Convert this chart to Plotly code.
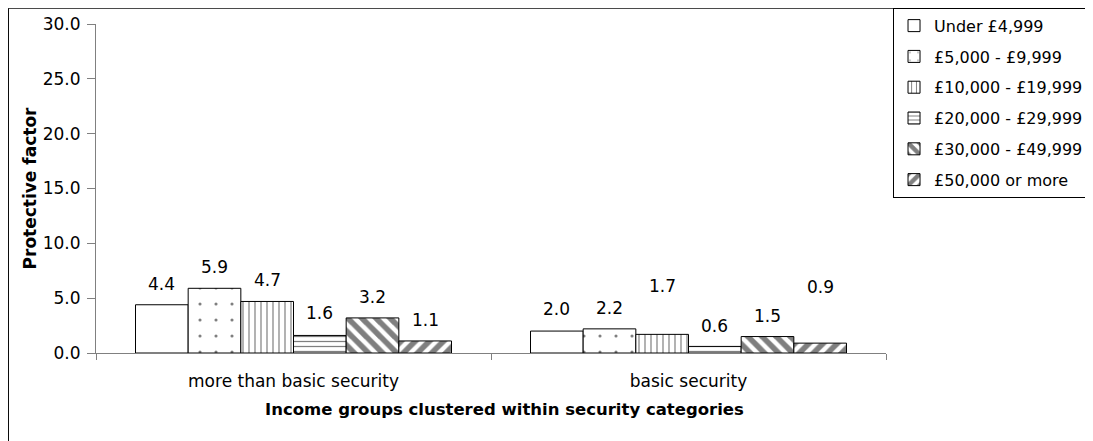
import plotly.graph_objects as go

categories = ["more than basic security", "basic security"]
series_names = ["Under £4,999", "£5,000 - £9,999", "£10,000 - £19,999",
                "£20,000 - £29,999", "£30,000 - £49,999", "£50,000 or more"]
# values[series][category]
values = [
    [4.4, 2.0],
    [5.9, 2.2],
    [4.7, 1.7],
    [1.6, 0.6],
    [3.2, 1.5],
    [1.1, 0.9],
]
y_ticks = [0, 5, 10, 15, 20, 25, 30]

# styling
patterns = [
    dict(shape="", fgcolor="black", bgcolor="white"),
    dict(shape=".", fgcolor="black", bgcolor="white", size=16, solidity=0.03),
    dict(shape="|", fgcolor="black", bgcolor="white", size=6, solidity=0.2),
    dict(shape="-", fgcolor="black", bgcolor="white", size=5, solidity=0.25),
    dict(shape="\\", fgcolor="black", bgcolor="white", size=10, solidity=0.55),
    dict(shape="/", fgcolor="black", bgcolor="white", size=10, solidity=0.55),
]
# pixel lift of each value label above its bar (labels manually moved in the original)
label_lift = [
    [21, 22],
    [21, 21],
    [21, 48],
    [22, 20],
    [21, 21],
    [21, 56],
]

FONT = "DejaVu Sans, Liberation Sans, Arial, sans-serif"
FS = 17
AXIS_COL = "#808080"

fig = go.Figure()
for i, name in enumerate(series_names):
    fig.add_trace(go.Bar(
        x=categories, y=values[i], name=name,
        marker=dict(color="white", line=dict(color="black", width=1), pattern=patterns[i]),
        legendgroup=f"g{i}",
    ))

n = len(series_names)
bargap = 0.2
bw = (1 - bargap) / n
annotations = []
for i in range(n):
    for c in range(len(categories)):
        xpos = c - (1 - bargap) / 2 + (i + 0.5) * bw
        annotations.append(dict(
            x=xpos, y=values[i][c], xref="x", yref="y",
            text=f"{values[i][c]:.1f}", showarrow=False,
            yshift=label_lift[i][c], yanchor="middle", xanchor="center",
            font=dict(family=FONT, size=FS, color="black"),
        ))

annotations.append(dict(
    x=0.5177, y=-0.1723, xref="paper", yref="paper",
    text="<b>Income groups clustered within security categories</b>",
    showarrow=False, xanchor="center", yanchor="middle",
    font=dict(family=FONT, size=16.5, color="black"),
))

fig.update_layout(
    width=1093, height=441,
    margin=dict(l=88, r=215, t=16.3, b=95.7, autoexpand=False),
    paper_bgcolor="white", plot_bgcolor="white",
    barmode="group", bargap=bargap, bargroupgap=0,
    font=dict(family=FONT, size=FS, color="black"),
    showlegend=True,
    legend=dict(
        x=1.0089, y=1.0495, xanchor="left", yanchor="top",
        bordercolor="black", borderwidth=1, bgcolor="white",
        font=dict(family=FONT, size=16, color="black"),
        tracegroupgap=7, traceorder="grouped",
    ),
    xaxis=dict(
        type="category", tickson="boundaries", ticks="outside", ticklen=6,
        tickcolor=AXIS_COL, showline=True, linecolor=AXIS_COL, linewidth=1,
        showgrid=False, ticklabelstandoff=13,
        tickfont=dict(family=FONT, size=FS, color="black"),
        range=[-0.5, 1.5],
    ),
    yaxis=dict(
        range=[0, 30], tickvals=y_ticks, tickformat=".1f", ticks="outside",
        ticklen=8, tickcolor=AXIS_COL, showline=True, linecolor=AXIS_COL,
        linewidth=1, showgrid=False, zeroline=False, ticklabelstandoff=3,
        tickfont=dict(family=FONT, size=FS, color="black"),
        title=dict(text="<b>Protective factor</b>", standoff=1,
                   font=dict(family=FONT, size=FS, color="black")),
    ),
    annotations=annotations,
    shapes=[dict(type="rect", xref="paper", yref="paper",
                 x0=-0.1108, x1=1.5, y0=-0.5, y1=1.048,
                 line=dict(color="black", width=1), fillcolor="rgba(0,0,0,0)",
                 layer="below")],
)

fig.write_html("out.html")
